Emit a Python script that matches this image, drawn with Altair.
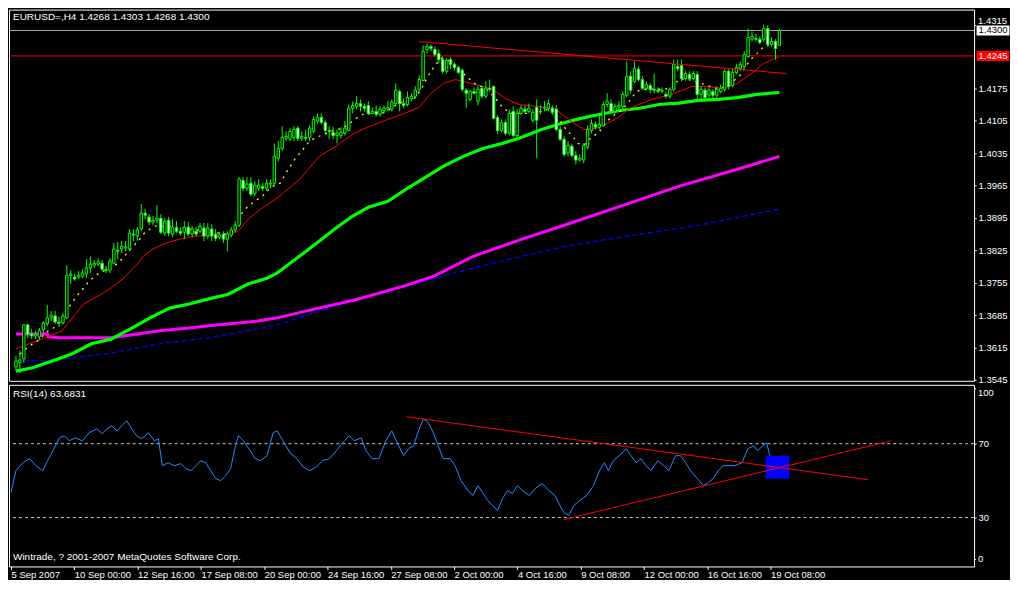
import json
import altair as alt
import pandas as pd

# ---------------- data (EURUSD H4, 196 bars) ----------------
open_ = [1.3573, 1.3582, 1.3590, 1.3664, 1.3644, 1.3640, 1.3638, 1.3653, 1.3666, 1.3679,
         1.3683, 1.3670, 1.3668, 1.3679, 1.3771, 1.3767, 1.3767, 1.3769, 1.3774, 1.3787,
         1.3793, 1.3795, 1.3797, 1.3784, 1.3782, 1.3797, 1.3825, 1.3828, 1.3830, 1.3828,
         1.3860, 1.3856, 1.3871, 1.3905, 1.3897, 1.3886, 1.3890, 1.3894, 1.3862, 1.3890,
         1.3860, 1.3873, 1.3866, 1.3864, 1.3875, 1.3860, 1.3866, 1.3866, 1.3873, 1.3856,
         1.3871, 1.3860, 1.3853, 1.3860, 1.3849, 1.3858, 1.3869, 1.3879, 1.3976, 1.3959,
         1.3970, 1.3948, 1.3959, 1.3963, 1.3959, 1.3968, 1.3970, 1.4024, 1.4045, 1.4067,
         1.4065, 1.4069, 1.4089, 1.4067, 1.4069, 1.4069, 1.4082, 1.4104, 1.4112, 1.4101,
         1.4084, 1.4080, 1.4073, 1.4073, 1.4078, 1.4084, 1.4132, 1.4136, 1.4142, 1.4136,
         1.4138, 1.4121, 1.4125, 1.4119, 1.4127, 1.4130, 1.4130, 1.4142, 1.4168, 1.4142,
         1.4140, 1.4153, 1.4158, 1.4173, 1.4192, 1.4259, 1.4265, 1.4259, 1.4250, 1.4237,
         1.4212, 1.4237, 1.4227, 1.4220, 1.4214, 1.4171, 1.4151, 1.4168, 1.4147, 1.4175,
         1.4158, 1.4175, 1.4179, 1.4112, 1.4084, 1.4101, 1.4078, 1.4125, 1.4073, 1.4121,
         1.4130, 1.4125, 1.4106, 1.4134, 1.4125, 1.4132, 1.4132, 1.4132, 1.4130, 1.4086,
         1.4065, 1.4035, 1.4050, 1.4030, 1.4020, 1.4020, 1.4048, 1.4084, 1.4097, 1.4091,
         1.4095, 1.4140, 1.4142, 1.4125, 1.4134, 1.4136, 1.4160, 1.4201, 1.4190, 1.4216,
         1.4194, 1.4175, 1.4181, 1.4173, 1.4171, 1.4169, 1.4162, 1.4158, 1.4173, 1.4222,
         1.4224, 1.4196, 1.4205, 1.4196, 1.4205, 1.4162, 1.4171, 1.4160, 1.4168, 1.4160,
         1.4168, 1.4173, 1.4212, 1.4181, 1.4209, 1.4218, 1.4222, 1.4244, 1.4281, 1.4283,
         1.4281, 1.4281, 1.4304, 1.4270, 1.4276, 1.4268]
high = [1.3597, 1.3608, 1.3666, 1.3666, 1.3655, 1.3651, 1.3657, 1.3672, 1.3707, 1.3694,
        1.3694, 1.3681, 1.3690, 1.3793, 1.3782, 1.3774, 1.3780, 1.3784, 1.3806, 1.3812,
        1.3804, 1.3808, 1.3804, 1.3791, 1.3808, 1.3841, 1.3843, 1.3845, 1.3845, 1.3871,
        1.3871, 1.3875, 1.3925, 1.3914, 1.3903, 1.3899, 1.3922, 1.3903, 1.3894, 1.3897,
        1.3892, 1.3888, 1.3875, 1.3888, 1.3886, 1.3877, 1.3875, 1.3884, 1.3884, 1.3884,
        1.3881, 1.3871, 1.3864, 1.3866, 1.3866, 1.3875, 1.3888, 1.3983, 1.3983, 1.3983,
        1.3983, 1.3974, 1.3979, 1.3970, 1.3979, 1.3979, 1.4056, 1.4061, 1.4093, 1.4082,
        1.4089, 1.4093, 1.4093, 1.4082, 1.4086, 1.4095, 1.4114, 1.4121, 1.4121, 1.4106,
        1.4093, 1.4091, 1.4086, 1.4091, 1.4104, 1.4140, 1.4147, 1.4158, 1.4151, 1.4142,
        1.4147, 1.4134, 1.4138, 1.4136, 1.4138, 1.4147, 1.4151, 1.4186, 1.4173, 1.4153,
        1.4168, 1.4164, 1.4179, 1.4203, 1.4268, 1.4272, 1.4270, 1.4265, 1.4259, 1.4244,
        1.4240, 1.4242, 1.4231, 1.4224, 1.4218, 1.4175, 1.4171, 1.4177, 1.4181, 1.4181,
        1.4190, 1.4194, 1.4181, 1.4117, 1.4108, 1.4106, 1.4130, 1.4136, 1.4130, 1.4138,
        1.4138, 1.4142, 1.4130, 1.4151, 1.4138, 1.4147, 1.4151, 1.4138, 1.4138, 1.4093,
        1.4071, 1.4061, 1.4054, 1.4039, 1.4032, 1.4056, 1.4095, 1.4108, 1.4104, 1.4117,
        1.4147, 1.4164, 1.4151, 1.4142, 1.4147, 1.4168, 1.4233, 1.4212, 1.4233, 1.4222,
        1.4201, 1.4190, 1.4186, 1.4207, 1.4177, 1.4177, 1.4168, 1.4177, 1.4237, 1.4237,
        1.4237, 1.4212, 1.4212, 1.4212, 1.4212, 1.4179, 1.4177, 1.4177, 1.4173, 1.4179,
        1.4183, 1.4216, 1.4216, 1.4218, 1.4227, 1.4233, 1.4255, 1.4304, 1.4298, 1.4293,
        1.4287, 1.4313, 1.4311, 1.4285, 1.4281, 1.4303]
low = [1.3564, 1.3560, 1.3582, 1.3636, 1.3633, 1.3633, 1.3631, 1.3646, 1.3661, 1.3672,
       1.3666, 1.3659, 1.3664, 1.3677, 1.3752, 1.3759, 1.3763, 1.3765, 1.3765, 1.3776,
       1.3787, 1.3791, 1.3780, 1.3776, 1.3776, 1.3795, 1.3806, 1.3819, 1.3823, 1.3823,
       1.3845, 1.3845, 1.3866, 1.3892, 1.3879, 1.3879, 1.3884, 1.3860, 1.3856, 1.3856,
       1.3853, 1.3862, 1.3856, 1.3849, 1.3856, 1.3853, 1.3856, 1.3862, 1.3845, 1.3849,
       1.3845, 1.3845, 1.3849, 1.3841, 1.3823, 1.3853, 1.3864, 1.3875, 1.3953, 1.3953,
       1.3942, 1.3942, 1.3953, 1.3953, 1.3953, 1.3959, 1.3963, 1.4017, 1.4039, 1.4061,
       1.4061, 1.4061, 1.4061, 1.4061, 1.4061, 1.4061, 1.4078, 1.4099, 1.4097, 1.4078,
       1.4065, 1.4065, 1.4056, 1.4067, 1.4073, 1.4082, 1.4121, 1.4130, 1.4125, 1.4125,
       1.4117, 1.4119, 1.4114, 1.4114, 1.4121, 1.4125, 1.4125, 1.4138, 1.4125, 1.4132,
       1.4136, 1.4147, 1.4153, 1.4168, 1.4190, 1.4250, 1.4255, 1.4244, 1.4229, 1.4207,
       1.4207, 1.4216, 1.4214, 1.4207, 1.4168, 1.4132, 1.4147, 1.4162, 1.4138, 1.4153,
       1.4153, 1.4168, 1.4108, 1.4076, 1.4080, 1.4073, 1.4073, 1.4069, 1.4069, 1.4117,
       1.4121, 1.4121, 1.4101, 1.4024, 1.4119, 1.4125, 1.4125, 1.4117, 1.4082, 1.4061,
       1.4028, 1.4028, 1.4026, 1.4011, 1.4017, 1.4013, 1.4043, 1.4078, 1.4086, 1.4086,
       1.4091, 1.4134, 1.4121, 1.4121, 1.4130, 1.4130, 1.4155, 1.4164, 1.4186, 1.4190,
       1.4171, 1.4171, 1.4164, 1.4164, 1.4164, 1.4164, 1.4153, 1.4153, 1.4168, 1.4212,
       1.4190, 1.4192, 1.4192, 1.4192, 1.4147, 1.4147, 1.4147, 1.4151, 1.4153, 1.4153,
       1.4164, 1.4168, 1.4173, 1.4177, 1.4205, 1.4212, 1.4218, 1.4240, 1.4276, 1.4276,
       1.4270, 1.4276, 1.4265, 1.4265, 1.4237, 1.4268]
close = [1.3586, 1.3588, 1.3664, 1.3644, 1.3640, 1.3644, 1.3651, 1.3668, 1.3679, 1.3685,
         1.3670, 1.3668, 1.3683, 1.3771, 1.3774, 1.3763, 1.3771, 1.3776, 1.3787, 1.3795,
         1.3797, 1.3800, 1.3784, 1.3782, 1.3802, 1.3828, 1.3823, 1.3834, 1.3832, 1.3862,
         1.3858, 1.3869, 1.3905, 1.3901, 1.3886, 1.3890, 1.3894, 1.3864, 1.3888, 1.3862,
         1.3875, 1.3866, 1.3862, 1.3875, 1.3860, 1.3871, 1.3860, 1.3877, 1.3856, 1.3873,
         1.3856, 1.3851, 1.3858, 1.3849, 1.3860, 1.3869, 1.3879, 1.3979, 1.3959, 1.3968,
         1.3946, 1.3966, 1.3966, 1.3959, 1.3970, 1.3970, 1.4028, 1.4045, 1.4069, 1.4071,
         1.4082, 1.4086, 1.4067, 1.4071, 1.4067, 1.4089, 1.4108, 1.4112, 1.4101, 1.4084,
         1.4082, 1.4073, 1.4078, 1.4080, 1.4089, 1.4132, 1.4138, 1.4142, 1.4136, 1.4132,
         1.4121, 1.4125, 1.4119, 1.4130, 1.4132, 1.4134, 1.4145, 1.4171, 1.4142, 1.4138,
         1.4155, 1.4158, 1.4171, 1.4194, 1.4255, 1.4265, 1.4261, 1.4248, 1.4237, 1.4212,
         1.4235, 1.4227, 1.4220, 1.4209, 1.4173, 1.4164, 1.4168, 1.4164, 1.4173, 1.4158,
         1.4175, 1.4173, 1.4110, 1.4084, 1.4101, 1.4078, 1.4121, 1.4073, 1.4121, 1.4132,
         1.4125, 1.4132, 1.4123, 1.4106, 1.4125, 1.4134, 1.4142, 1.4123, 1.4086, 1.4065,
         1.4032, 1.4052, 1.4030, 1.4020, 1.4024, 1.4052, 1.4086, 1.4099, 1.4091, 1.4097,
         1.4140, 1.4147, 1.4125, 1.4136, 1.4138, 1.4162, 1.4201, 1.4171, 1.4218, 1.4194,
         1.4175, 1.4183, 1.4173, 1.4171, 1.4168, 1.4171, 1.4158, 1.4173, 1.4227, 1.4218,
         1.4196, 1.4207, 1.4196, 1.4207, 1.4162, 1.4173, 1.4155, 1.4171, 1.4160, 1.4173,
         1.4175, 1.4212, 1.4179, 1.4209, 1.4220, 1.4227, 1.4248, 1.4285, 1.4287, 1.4281,
         1.4274, 1.4304, 1.4270, 1.4276, 1.4261, 1.4300]

# moving averages (bar position, price)
ma_red_bar = [0, 7.5, 11.75, 13.75, 17.25, 21.75, 24.25, 27.5, 31, 32.5, 35, 38.5, 41.75, 46, 52.5,
              56.75, 59.25, 62.5, 66.75, 72.5, 77.5, 81.75, 86, 89.25, 95, 99.25, 103, 106, 109.25,
              112.25, 114.25, 117.5, 121.75, 125, 128.5, 137.5, 141.75, 145, 148.5, 153.5, 156.75,
              162.5, 167.5, 172.5, 176, 181, 184.25, 187.5, 191, 195]
ma_red_val = [1.3612, 1.3636, 1.3651, 1.3672, 1.3709, 1.3730, 1.3743, 1.3765, 1.3795, 1.3812, 1.3828,
              1.3841, 1.3849, 1.3856, 1.3856, 1.3866, 1.3892, 1.3914, 1.3938, 1.3979, 1.4028, 1.4050,
              1.4076, 1.4089, 1.4108, 1.4121, 1.4134, 1.4164, 1.4186, 1.4194, 1.4190, 1.4183, 1.4173,
              1.4153, 1.4140, 1.4132, 1.4104, 1.4086, 1.4089, 1.4110, 1.4132, 1.4151, 1.4162, 1.4179,
              1.4179, 1.4175, 1.4186, 1.4205, 1.4229, 1.4244]
ma_yel_bar = [1, 3.75, 5.5, 8.5, 10, 11.75, 13.75, 15.5, 17.25, 18.75, 20, 21.25, 23, 24.25, 26, 27.5,
              28.75, 30, 31.25, 32.5, 34.25, 35.5, 39.25, 44.25, 49.25, 51.75, 53.5, 55.5, 57.5, 59.25,
              61, 63.5, 65, 67.5, 69.25, 71.25, 73.5, 75, 76.75, 78.75, 81, 83.5, 86, 87.5, 89.25,
              91.75, 93.5, 95, 97.25, 99.25, 101.75, 103.5, 104.25, 106, 107.25, 108.75, 110.5, 112.5,
              115, 117.5, 120, 122.5, 124.25, 126.25, 128.5, 131, 134.25, 136, 137.5, 138.75, 140.5,
              142.25, 143.5, 145, 147.25, 148.75, 151, 153, 154.75, 156.25, 158.5, 160, 162.5, 165,
              167.5, 169.25, 171, 173.5, 176, 178.5, 180.5, 182.5, 184.75, 186.75, 188, 189.25, 191,
              192.5, 194.25]
ma_yel_val = [1.3601, 1.3620, 1.3629, 1.3653, 1.3659, 1.3679, 1.3705, 1.3726, 1.3743, 1.3759, 1.3767,
              1.3776, 1.3782, 1.3787, 1.3797, 1.3810, 1.3823, 1.3834, 1.3845, 1.3860, 1.3871, 1.3877,
              1.3877, 1.3871, 1.3866, 1.3862, 1.3860, 1.3871, 1.3903, 1.3920, 1.3931, 1.3946, 1.3961,
              1.3970, 1.3996, 1.4022, 1.4045, 1.4061, 1.4069, 1.4076, 1.4084, 1.4089, 1.4104, 1.4114,
              1.4121, 1.4119, 1.4121, 1.4127, 1.4140, 1.4147, 1.4153, 1.4173, 1.4186, 1.4212, 1.4227,
              1.4240, 1.4235, 1.4222, 1.4201, 1.4183, 1.4175, 1.4153, 1.4134, 1.4121, 1.4121, 1.4121,
              1.4125, 1.4130, 1.4125, 1.4108, 1.4086, 1.4071, 1.4056, 1.4052, 1.4071, 1.4078, 1.4104,
              1.4119, 1.4127, 1.4143, 1.4168, 1.4173, 1.4173, 1.4173, 1.4175, 1.4194, 1.4196, 1.4190,
              1.4183, 1.4175, 1.4177, 1.4186, 1.4201, 1.4227, 1.4240, 1.4250, 1.4265, 1.4270, 1.4274]
ma_grn_bar = [0, 4.25, 9.25, 14.25, 19.25, 24.25, 29.25, 34.25, 39.25, 44.25, 49.25, 54.25, 59.25,
              64.25, 66.75, 70, 73.5, 77.5, 81.75, 86, 90, 95, 100, 104.25, 109.25, 114.25, 119.25,
              124.25, 128.5, 134.25, 139.25, 144.25, 149.25, 154.25, 159.25, 164.25, 169.25, 174.25,
              179.25, 184.25, 189.25, 195]
ma_grn_val = [1.3564, 1.3571, 1.3586, 1.3601, 1.3623, 1.3633, 1.3655, 1.3679, 1.3700, 1.3709, 1.3720,
              1.3730, 1.3752, 1.3765, 1.3776, 1.3797, 1.3819, 1.3845, 1.3873, 1.3899, 1.3918, 1.3931,
              1.3959, 1.3981, 1.4007, 1.4028, 1.4045, 1.4056, 1.4067, 1.4086, 1.4099, 1.4110, 1.4119,
              1.4127, 1.4132, 1.4140, 1.4143, 1.4149, 1.4151, 1.4155, 1.4162, 1.4166]
ma_mag_bar = [0, 8, 8.25, 11, 24.25, 29.25, 36.75, 44.25, 49.25, 56.75, 61.75, 66.75, 74.25, 86.75,
              99.25, 106.75, 116.75, 129.25, 139.25, 154.25, 169.25, 184.25, 195]
ma_mag_val = [1.3644, 1.3644, 1.3638, 1.3636, 1.3636, 1.3642, 1.3651, 1.3657, 1.3662, 1.3668, 1.3672,
              1.3679, 1.3694, 1.3718, 1.3748, 1.3769, 1.3812, 1.3849, 1.3877, 1.3920, 1.3963, 1.4000,
              1.4028]
ma_blu_bar = [0, 6.75, 11.75, 24.25, 36.75, 49.25, 61.75, 66.75, 81.75, 99.25, 111.75, 124.25, 139.25,
              154.25, 174.25, 195]
ma_blu_val = [1.3586, 1.3586, 1.3590, 1.3603, 1.3623, 1.3636, 1.3655, 1.3664, 1.3705, 1.3746, 1.3776,
              1.3802, 1.3832, 1.3853, 1.3879, 1.3914]

# RSI(14)
rsi_bar = [0, 1.25, 3, 4.75, 6.25, 8, 9.25, 11.25, 12.25, 13.5, 14.75, 16.25, 18, 19.75, 21.75, 23,
           24.25, 25.5, 26.75, 28, 29.25, 30.5, 31.75, 33, 34.75, 36.25, 37.25, 38.25, 39.75, 41.25,
           43, 44.25, 45.5, 46.75, 48, 49.25, 50.5, 51.75, 53, 54.25, 55.5, 56.75, 57.5, 58.75, 60.5,
           61.75, 63, 64.75, 66.25, 67.25, 68.75, 70.5, 72.25, 73.75, 75.5, 77.25, 78.75, 80.5, 82.25,
           84.25, 85.5, 86.75, 88.5, 89.75, 91.25, 93, 94.75, 96.25, 98, 99.25, 100.5, 101.75, 103,
           104.25, 105.5, 106.75, 108, 109.25, 111, 112.25, 113.75, 115.5, 116.75, 118, 119.25, 120.5,
           121.75, 123, 124.25, 125.5, 126.75, 128, 129.25, 131, 132.5, 134.25, 136, 137.5, 138.75,
           139.75, 141, 142.25, 143.75, 145.5, 147.25, 148.75, 150, 151, 152.25, 153.75, 155.5, 156.75,
           158, 159.25, 160.5, 161.75, 163.5, 165, 166.25, 168, 169.25, 170.5, 171.75, 173.5, 175,
           176.25, 177.5, 178.75, 180, 181.25, 183, 184.75, 186.25, 187.75, 188.75, 190, 191, 192.25,
           193.75, 195]
rsi_val = [43.5, 55.4, 59.7, 61.9, 58.1, 55.4, 60.8, 68.9, 73.2, 74.3, 71.6, 73.2, 71.6, 75.9, 78.1,
           75.4, 78.1, 79.7, 77.0, 79.7, 82.4, 78.1, 74.3, 72.7, 75.9, 71.6, 72.7, 58.1, 59.7, 58.1,
           59.2, 56.5, 55.4, 58.1, 60.8, 59.7, 55.4, 51.1, 50.0, 52.7, 56.5, 68.9, 74.3, 71.6, 66.2,
           61.9, 60.8, 63.5, 75.9, 77.0, 71.6, 65.1, 61.9, 57.6, 55.4, 57.6, 60.8, 61.9, 66.2, 71.6,
           74.3, 71.6, 73.2, 66.2, 61.9, 61.9, 71.6, 77.0, 68.9, 63.5, 67.3, 68.9, 77.0, 83.5, 81.4,
           75.9, 68.9, 61.9, 61.9, 58.1, 50.0, 44.6, 41.9, 47.3, 43.5, 39.2, 36.5, 33.8, 40.3, 44.6,
           43.0, 47.3, 44.6, 41.9, 45.7, 48.4, 44.6, 41.9, 36.5, 32.7, 31.1, 36.5, 39.2, 41.9, 47.3,
           55.4, 59.7, 55.4, 60.8, 63.5, 67.3, 63.5, 59.7, 61.9, 58.1, 55.4, 60.8, 58.1, 55.4, 63.5,
           63.5, 59.7, 55.4, 51.1, 47.3, 48.9, 51.1, 55.4, 58.1, 58.1, 58.1, 59.7, 67.3, 68.9, 66.2,
           68.9, 70.5, 59.7, 55.4, 63.68]

price_ticks = [1.3545, 1.3615, 1.3685, 1.3755, 1.3825, 1.3895, 1.3965, 1.4035, 1.4105, 1.4175]
top_price_label = "1.4315"
rsi_ticks = [30, 70]
rsi_edge_labels = ["100", "0"]
date_tick_bars = [0, 16, 32, 48, 64, 80, 96, 112, 128, 144, 160, 176, 192]
date_labels = ["5 Sep 2007", "10 Sep 00:00", "12 Sep 16:00", "17 Sep 08:00", "20 Sep 00:00",
               "24 Sep 16:00", "27 Sep 08:00", "2 Oct 00:00", "4 Oct 16:00", "9 Oct 08:00",
               "12 Oct 00:00", "16 Oct 16:00", "19 Oct 08:00"]

bid_line = 1.4300
hline_red = 1.4245
trend_main_bar = [103, 196.75]
trend_main_val = [1.4276, 1.4207]
trend_rsi1_bar = [100, 216.75]
trend_rsi1_val = [84.6, 50.5]
trend_rsi2_bar = [139.75, 222.5]
trend_rsi2_val = [28.9, 71.6]
rsi_box = {"x1": 190.75, "x2": 196.75, "y1": 51.1, "y2": 63.5}

title_text = "EURUSD=,H4  1.4268 1.4303 1.4268 1.4300"
rsi_text = "RSI(14) 63.6831"
copy_text = "Wintrade, ? 2001-2007 MetaQuotes Software Corp."

# ---------------- chart ----------------
FONT = "Liberation Sans"
FS = 9.5
W = 967
H_MAIN = 372
H_RSI = 182
GREEN = "#00ff00"

bars = pd.DataFrame({"i": list(range(len(close))), "o": open_, "h": high, "l": low, "c": close})
bars["dir"] = ["bull" if c >= o else "bear" for o, c in zip(open_, close)]

xs = alt.Scale(domain=[-0.505, 243.44], nice=False, zero=False)
ys = alt.Scale(domain=[1.35429, 1.43452], nice=False, zero=False)
rs = alt.Scale(domain=[3.51, 101.9], nice=False, zero=False)

X = alt.X("i:Q", scale=xs, axis=None)
Y_AX = alt.Axis(orient="right", values=price_ticks, format=".4f", tickSize=2, labelPadding=2,
                title=None, labelFlush=False, labelOverlap=False)
XR_AX = alt.Axis(values=date_tick_bars, labelExpr="%s[round(datum.value / 16)]" % json.dumps(date_labels),
                 labelAlign="left", tickSize=3, labelPadding=0, labelOverlap=False, labelFlush=False,
                 title=None, labelBaseline="top")
R_AX = alt.Axis(orient="right", values=rsi_ticks, tickSize=2, labelPadding=2, title=None,
                labelFlush=False)


def YP(field):
    return alt.Y(field, type="quantitative", scale=ys, axis=Y_AX)


def YR(field):
    return alt.Y(field, type="quantitative", scale=rs, axis=R_AX)


def XR(field):
    return alt.X(field, type="quantitative", scale=xs, axis=XR_AX)


def line_df(b, v):
    return pd.DataFrame({"i": b, "p": v})


def ma_layer(b, v, color, width, dash=None):
    kw = dict(color=color, strokeWidth=width, clip=True)
    if dash:
        kw["strokeDash"] = dash
    return alt.Chart(line_df(b, v)).mark_line(**kw).encode(x=X, y=YP("p"))


hlines = alt.Chart(pd.DataFrame({"p": [bid_line, hline_red], "col": ["#a8a8a8", "#ff0000"]})).mark_rule(
    strokeWidth=1).encode(y=YP("p"), color=alt.Color("col:N", scale=None))

blue_ma = ma_layer(ma_blu_bar, ma_blu_val, "#0000ff", 1.3, [5, 3])
mag_ma = ma_layer(ma_mag_bar, ma_mag_val, "#ff00ff", 3)
grn_ma = ma_layer(ma_grn_bar, ma_grn_val, GREEN, 3.2)
red_ma = ma_layer(ma_red_bar, ma_red_val, "#ff0000", 1)
yel_ma = ma_layer(ma_yel_bar, ma_yel_val, "#ffff00", 1.3, [2, 5])

wicks = alt.Chart(bars).mark_rule(color=GREEN, strokeWidth=1).encode(x=X, y=YP("l"), y2="h:Q")
bodies = alt.Chart(bars).mark_bar(width=2.4, stroke=GREEN, strokeWidth=1).encode(
    x=X, y=YP("o"), y2="c:Q",
    fill=alt.Fill("dir:N", scale=alt.Scale(domain=["bull", "bear"], range=["#000000", "#ffffff"]),
                  legend=None))

trend_main = alt.Chart(line_df(trend_main_bar, trend_main_val)).mark_line(
    color="#ff0000", strokeWidth=1).encode(x=X, y=YP("p"))

box_shape = "M-1,-0.31L1,-0.31L1,0.31L-1,0.31Z"
tags = pd.DataFrame({"p": [bid_line, hline_red], "t": ["1.4300", "1.4245"],
                     "bg": ["#ffffff", "#ff0000"], "fg": ["#000000", "#ffffff"]})
TAG_X = W + 19
tag_box = alt.Chart(tags).mark_point(shape=box_shape, filled=True, size=33 * 33, opacity=1,
                                     strokeWidth=0).encode(
    x=alt.value(TAG_X), y=YP("p"), fill=alt.Fill("bg:N", scale=None))
tag_txt = alt.Chart(tags).mark_text(font=FONT, fontSize=FS, align="center", baseline="middle").encode(
    x=alt.value(TAG_X), y=YP("p"), text="t:N", color=alt.Color("fg:N", scale=None))

one = pd.DataFrame({"a": [0]})


def fixed_text(txt, x, y, align="left", size=10):
    return alt.Chart(one).mark_text(font=FONT, fontSize=size, align=align, baseline="middle",
                                    color="white").encode(
        x=alt.value(x), y=alt.value(y), text=alt.value(txt))


top_tick = alt.Chart(one).mark_rule(color="white").encode(
    x=alt.value(W), x2=alt.value(W + 2), y=alt.value(16))

main = alt.layer(hlines, blue_ma, mag_ma, grn_ma, red_ma, yel_ma, wicks, bodies, trend_main,
                 top_tick, fixed_text(top_price_label, W + 4, 11, size=FS),
                 tag_box, tag_txt, fixed_text(title_text, 4, 7)).properties(width=W, height=H_MAIN)

# ---- RSI panel ----
levels = alt.Chart(pd.DataFrame({"r": [30, 70]})).mark_rule(
    color="#c8c8c8", strokeWidth=1, strokeDash=[3, 3]).encode(y=YR("r"))
box = alt.Chart(pd.DataFrame([rsi_box])).mark_rect(color="#0000ff").encode(
    x=XR("x1"), x2="x2:Q", y=YR("y1"), y2="y2:Q")
rsi_line = alt.Chart(pd.DataFrame({"i": rsi_bar, "r": rsi_val})).mark_line(
    color="#1e90ff", strokeWidth=1).encode(x=XR("i"), y=YR("r"))


def tl(b, v):
    return alt.Chart(pd.DataFrame({"i": b, "r": v})).mark_line(color="#ff0000", strokeWidth=1).encode(
        x=XR("i"), y=YR("r"))


edge_ticks = alt.Chart(pd.DataFrame({"yy": [4, H_RSI - 7]})).mark_rule(color="white").encode(
    x=alt.value(W), x2=alt.value(W + 2), y=alt.Y("yy:Q", scale=None))
edge_lbl = alt.Chart(pd.DataFrame({"yy": [8, H_RSI - 7], "t": rsi_edge_labels})).mark_text(
    font=FONT, fontSize=FS, align="left", baseline="middle", color="white").encode(
    x=alt.value(W + 4), y=alt.Y("yy:Q", scale=None), text="t:N")

rsi = alt.layer(levels, rsi_line, box, tl(trend_rsi1_bar, trend_rsi1_val),
                tl(trend_rsi2_bar, trend_rsi2_val), fixed_text(rsi_text, 4, 9),
                fixed_text(copy_text, 4, H_RSI - 9), edge_ticks, edge_lbl).properties(
    width=W, height=H_RSI)

chart = alt.vconcat(main, rsi, spacing=4, bounds="flush").properties(
    padding=0, background="#000000"
).configure_view(stroke="#ffffff", strokeWidth=1).configure_axis(
    labelColor="#ffffff", tickColor="#ffffff", domain=False, grid=False,
    labelFont=FONT, labelFontSize=FS)

chart.save("out.html", embed_options={"renderer": "svg", "actions": False})
